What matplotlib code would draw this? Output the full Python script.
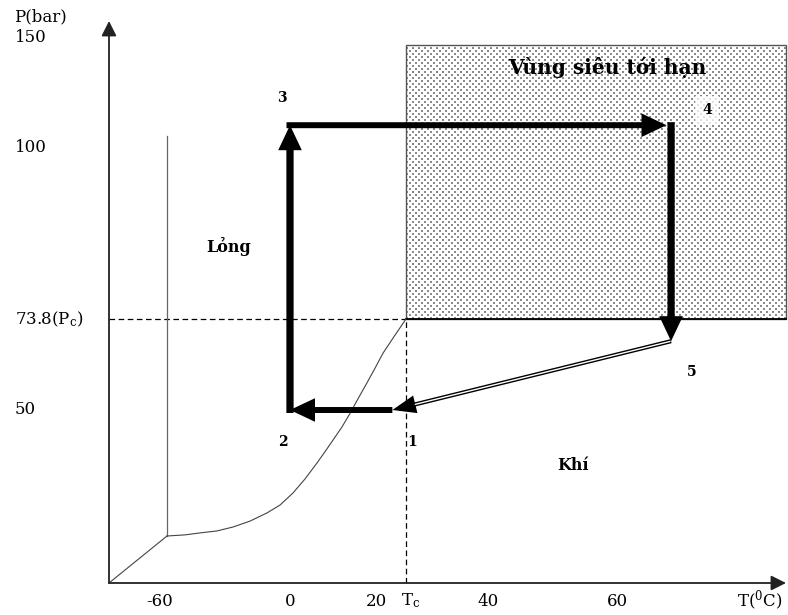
import numpy as np
import matplotlib
matplotlib.use("Agg")
import matplotlib.pyplot as plt
import matplotlib.transforms as mtransforms
from matplotlib.patches import Rectangle

plt.rcParams["font.family"] = ["DejaVu Serif"]
plt.rcParams["mathtext.fontset"] = "dejavuserif"

# Schematic (non-linear) axes: value knots and where they sit on the sheet
T_KNOTS = [-80.0, -60.0, -56.6, 0.0, 20.0, 31.0, 40.0, 60.0, 85.0]
T_PIX = [109, 160, 167, 290, 376, 406, 488, 617, 786]
P_KNOTS = [0.0, 5.2, 50.0, 73.8, 100.0, 150.0, 158.0]
P_PIX = [32, 79, 205, 296, 468, 577, 594]

# CO2 phase diagram
T_c, P_c = 31.0, 73.8
T_triple, P_triple = -56.6, 5.2
T_origin, P_origin = -80.0, 0.0
T_end, P_end = 85.0, 158.0
P_melt_top = 105.0
P_super_top = 147.0

vapor_T = [-56.6, -48.3, -41.4, -33.6, -26.2, -18.4, -10.6, -4.6, 0.7, 3.5, 6.3,
           8.1, 10.0, 12.1, 14.0, 15.8, 17.9, 19.8, 22.6, 26.8, 31.0]
vapor_P = [5.2, 5.6, 6.3, 7.0, 8.4, 10.5, 13.4, 16.2, 20.5, 25.5, 31.2,
           35.1, 39.3, 44.0, 48.9, 52.9, 57.1, 61.0, 64.9, 69.4, 73.8]

# Process states 1..5
state_names = ["1", "2", "3", "4", "5"]
cycle_T = [26.0, 0.0, 0.0, 68.0, 68.0]
cycle_P = [50.0, 50.0, 110.0, 110.0, 68.0]

x_ticks = [-60, 0, 20, 31, 40, 60]
x_tick_labels = ["-60", "0", "20", r"T$_\mathregular{c}$", "40", "60"]
y_ticks = [150, 100, 73.8, 50]
y_tick_labels = ["150", "100", r"73.8(P$_\mathregular{c}$)", "50"]


def make_map(src, dst):
    src = np.asarray(src, float)
    dst = np.asarray(dst, float)
    s0 = (dst[1] - dst[0]) / (src[1] - src[0])
    s1 = (dst[-1] - dst[-2]) / (src[-1] - src[-2])

    def f(v):
        v = np.asarray(v, float)
        out = np.interp(v, src, dst)
        out = np.where(v < src[0], dst[0] + (v - src[0]) * s0, out)
        out = np.where(v > src[-1], dst[-1] + (v - src[-1]) * s1, out)
        return out
    return f


fx, fx_inv = make_map(T_KNOTS, T_PIX), make_map(T_PIX, T_KNOTS)
fy, fy_inv = make_map(P_KNOTS, P_PIX), make_map(P_PIX, P_KNOTS)

W_PX, H_PX = 788, 615
fig = plt.figure(figsize=(W_PX / 100, H_PX / 100), dpi=100)
fig.patch.set_facecolor("white")
ax = fig.add_axes([0, 0, 1, 1])
ax.set_xscale("function", functions=(fx, fx_inv))
ax.set_yscale("function", functions=(fy, fy_inv))
ax.set_xlim(float(fx_inv(0)), float(fx_inv(W_PX)))
ax.set_ylim(float(fy_inv(0)), float(fy_inv(H_PX)))
ax.axis("off")
ax.patch.set_visible(False)

# Dotted texture of the supercritical region
x0 = int(round(float(fx(T_c))))
x1 = int(round(float(fx(T_end))))
y0 = int(round(float(fy(P_c))))
y1 = int(round(float(fy(P_super_top))))
yy, xx = np.mgrid[0:y1 - y0, 0:x1 - x0]
row = yy // 3
dots = ((yy % 3) < 2) & (((xx - (row % 2) * 3) % 6) < 2)
texture = np.where(dots, 0.55, 1.0)
fig.figimage(texture, xo=x0, yo=y0, cmap="gray", vmin=0, vmax=1,
             origin="lower", zorder=-1)

ax.add_patch(Rectangle((T_c, P_c), T_end - T_c, P_super_top - P_c,
                       facecolor="none", edgecolor="#555555", lw=1.0, zorder=1))
ax.plot([T_c, T_end], [P_c, P_c], color="black", lw=1.3, zorder=2)

# Critical point guides
ax.plot([T_origin, T_c], [P_c, P_c], color="black", lw=0.9,
        dashes=(4.5, 2.8), zorder=2)
ax.plot([T_c, T_c], [P_origin, P_c], color="black", lw=0.9,
        dashes=(4.5, 2.8), zorder=2)

# Phase boundaries
ax.plot([T_origin, T_triple], [P_origin, P_triple], color="#444444", lw=0.8, zorder=2)
ax.plot([T_triple, T_triple], [P_triple, P_melt_top], color="#666666", lw=0.9, zorder=2)
ax.plot(vapor_T, vapor_P, color="#444444", lw=0.8, zorder=2)

# Axes with arrow heads
axis_style = dict(arrowstyle="-|>,head_length=9,head_width=4.5", mutation_scale=1,
                  color="#222222", lw=1.3, shrinkA=0, shrinkB=0)
ax.annotate("", xy=(T_origin, P_end), xytext=(T_origin, P_origin), arrowprops=axis_style)
ax.annotate("", xy=(T_end, P_origin), xytext=(T_origin, P_origin), arrowprops=axis_style)

pts = list(zip(cycle_T, cycle_P))


def thick_arrow(start, end, tail, start_off=(0, 0), shrink_end=0.0):
    tc = mtransforms.offset_copy(ax.transData, fig=fig, x=start_off[0],
                                 y=start_off[1], units="dots")
    ax.annotate("", xy=end, xycoords="data", xytext=start, textcoords=tc,
                arrowprops=dict(
                    arrowstyle=f"simple,head_length=18,head_width=17,tail_width={tail}",
                    mutation_scale=1, fc="black", ec="none", lw=0,
                    shrinkA=0, shrinkB=shrink_end),
                zorder=4)


thick_arrow(pts[0], pts[1], 4.3)                        # 1 -> 2
thick_arrow(pts[1], pts[2], 5.2, start_off=(0, -3))     # 2 -> 3
thick_arrow(pts[2], pts[3], 4.3, start_off=(-3.5, 0), shrink_end=3.3)  # 3 -> 4
thick_arrow(pts[3], pts[4], 5.2, start_off=(0, 3))      # 4 -> 5

# 5 -> 1 drawn as a double line
ax.annotate("", xy=pts[0], xytext=pts[4],
            arrowprops=dict(arrowstyle="simple,head_length=17,head_width=13,tail_width=3",
                            mutation_scale=1, fc="black", ec="none", lw=0,
                            shrinkA=0, shrinkB=0), zorder=4)
ax.annotate("", xy=pts[0], xytext=pts[4],
            arrowprops=dict(arrowstyle="-", color="white", lw=1.0,
                            shrinkA=0.8, shrinkB=17), zorder=5)

# State numbers
state_offsets = [(14.5, -23), (-5, -23), (-5.8, 19.4), (26, 10.8), (15, -22.3)]
for name, p, off in zip(state_names, pts, state_offsets):
    kw = {}
    if name == "4":
        kw["bbox"] = dict(boxstyle="square,pad=0.5", fc="white", ec="none", alpha=0.75)
    ax.annotate(name, xy=p, xytext=off, textcoords="offset points",
                ha="center", va="center", fontsize=10, fontweight="bold", zorder=6, **kw)

# Axis labels
blend = mtransforms.blended_transform_factory(ax.transAxes, ax.transData)
for v, lab in zip(y_ticks, y_tick_labels):
    ax.text(15 / W_PX, v, lab, transform=blend, ha="left", va="center", fontsize=12)
ax.text(14 / W_PX, 1 - 17 / H_PX, "P(bar)", transform=ax.transAxes,
        ha="left", va="center", fontsize=12)

for v, lab in zip(x_ticks, x_tick_labels):
    dx = 3 if v == T_c else 0
    ax.annotate(lab, xy=(v, P_origin), xytext=(dx, -13), textcoords="offset points",
                ha="center", va="center", fontsize=12)
ax.text(760 / W_PX, 1 - 601 / H_PX, r"T($^\mathregular{0}$C)", transform=ax.transAxes,
        ha="center", va="center", fontsize=12)

# Region names
ax.text(607 / W_PX, 1 - 67 / H_PX, "Vùng siêu tới hạn", transform=ax.transAxes,
        ha="center", va="center", fontsize=14.5, fontweight="bold", zorder=6)
ax.text(229 / W_PX, 1 - 247 / H_PX, "Lỏng", transform=ax.transAxes,
        ha="center", va="center", fontsize=11.5, fontweight="bold")
ax.text(573 / W_PX, 1 - 465 / H_PX, "Khí", transform=ax.transAxes,
        ha="center", va="center", fontsize=11.5, fontweight="bold")

fig.savefig("out.png", dpi=100, facecolor="white")
